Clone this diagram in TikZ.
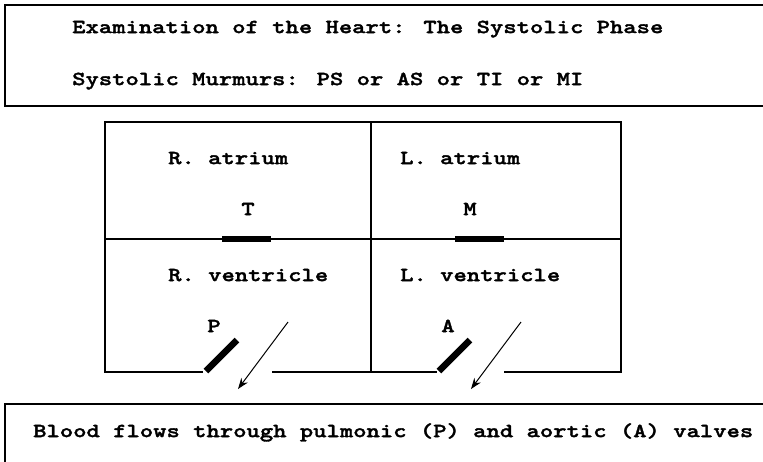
\documentclass[tikz,border=0pt]{standalone}
\usepackage{fontspec}
\newfontfamily\courbf[FakeStretch=1.27, FakeBold=1.6]{lmmonolt10-bold.otf}
\usetikzlibrary{arrows.meta}

\begin{document}
\begin{tikzpicture}[x=1pt, y=-1pt,
    txt/.style={anchor=west, inner sep=0pt,
      font=\courbf\fontsize{20}{24}\selectfont,
      text height=12.2pt, text depth=0pt},
    wall/.style={line width=1.3pt},
    valve/.style={line width=6.5pt},
    flow/.style={line width=1pt, -{Stealth[length=11pt, width=8pt]}}]

  % Frame
  \clip (0,0) rectangle (763,461);
  \fill[white] (0,0) rectangle (763,461);

  % Top box
  \draw[wall] (780,5) -- (5,5) -- (5,106) -- (780,106);
  \node[txt] (title) at (72,27)
    {Examination of the Heart: The Systolic Phase};
  \node[txt] (murmurs) at (72,79)
    {Systolic Murmurs: PS or AS or TI or MI};

  % Chambers
  \draw[wall] (203,372) -- (105,372) -- (105,122) -- (621,122)
    -- (621,372) -- (504,372);
  \draw[wall] (272,372) -- (437,372);
  \draw[wall] (371,122) -- (371,372);
  \draw[wall] (105,239) -- (621,239);

  \node[txt] (ratrium) at (168,158) {R. atrium};
  \node[txt] (latrium) at (400,158) {L. atrium};
  \node[txt] (rvent) at (168,275) {R. ventricle};
  \node[txt] (lvent) at (400,275) {L. ventricle};

  % Valves
  \draw[valve] (222,239) -- (271,239);
  \draw[valve] (455,239) -- (504,239);
  \draw[valve] (206,371) -- (237,340);
  \draw[valve] (439,371) -- (470,340);

  \node[txt, anchor=center] (tvalve) at (248,209) {T};
  \node[txt, anchor=center] (mvalve) at (470,209) {M};
  \node[txt, anchor=center] (pvalve) at (214,326) {P};
  \node[txt, anchor=center] (avalve) at (448,326) {A};

  % Blood flow
  \coordinate (pstart) at (288,322);
  \coordinate (pend) at (238,389);
  \coordinate (astart) at (521,322);
  \coordinate (aend) at (471,389);
  \draw[flow] (pstart) -- (pend);
  \draw[flow] (astart) -- (aend);

  % Bottom box
  \draw[wall] (780,404) -- (5,404) -- (5,470);
  \node[txt] (flows) at (33,431)
    {Blood flows through pulmonic (P) and aortic (A) valves};

\end{tikzpicture}
\end{document}
